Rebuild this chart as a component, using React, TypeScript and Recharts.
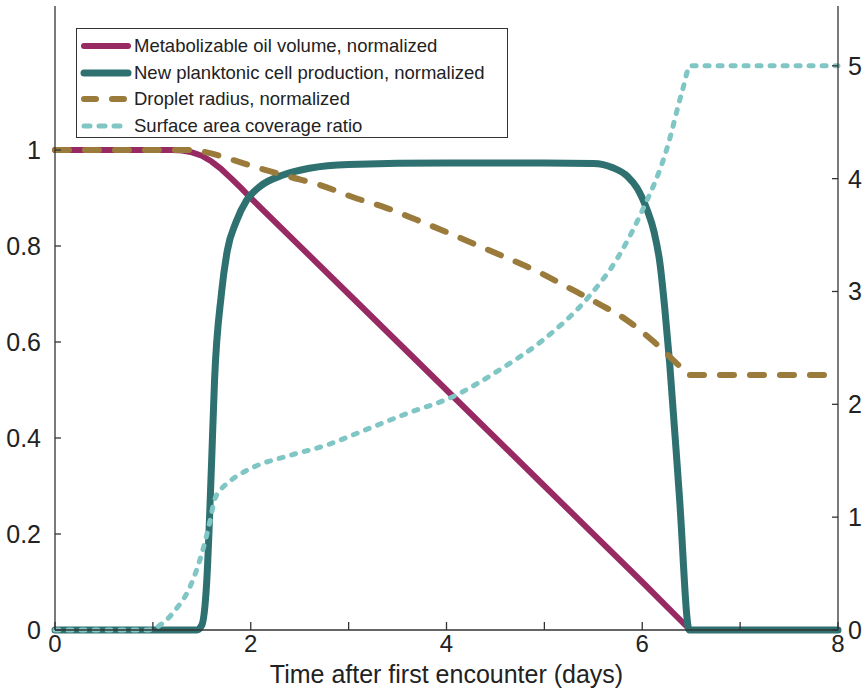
import React from 'react';
import { LineChart, Line, XAxis, YAxis, Legend } from 'recharts';

// [time (days), value]
const oilVolume: number[][] = [
  [0, 1], [1.2, 1], [1.3, 0.999], [1.4, 0.995], [1.5, 0.988], [1.6, 0.976], [1.7, 0.96],
  [1.8, 0.941], [1.9, 0.921], [2.0, 0.9], [3.0, 0.7], [4.0, 0.5], [5.0, 0.3], [6.0, 0.1],
  [6.49, 0], [8, 0],
];
const cellProduction: number[][] = [
  [0, 0], [1.45, 0], [1.5, 0.01], [1.55, 0.1], [1.6, 0.35], [1.63, 0.52], [1.7, 0.7],
  [1.76, 0.79], [1.85, 0.85], [1.96, 0.896], [2.1, 0.925], [2.33, 0.948], [2.6, 0.962],
  [3.0, 0.97], [4.0, 0.973], [5.0, 0.973], [5.5, 0.972], [5.7, 0.963], [5.85, 0.945],
  [5.95, 0.92], [6.05, 0.875], [6.12, 0.83], [6.18, 0.765], [6.23, 0.67], [6.28, 0.556],
  [6.38, 0.277], [6.48, 0], [8, 0],
];
const dropletRadius: number[][] = [
  [0, 1], [1.4, 1], [1.55, 0.995], [1.82, 0.979], [2.09, 0.962], [2.4, 0.944], [2.71, 0.927],
  [3.04, 0.902], [3.39, 0.879], [3.7, 0.854], [4.0, 0.829], [4.31, 0.802], [4.62, 0.775],
  [4.95, 0.745], [5.23, 0.715], [5.57, 0.678], [5.84, 0.646], [6.11, 0.602], [6.38, 0.55],
  [6.48, 0.531], [8, 0.531],
];
const coverageRatio: number[][] = [
  [0, 0], [0.95, 0], [1.05, 0.03], [1.14, 0.09], [1.25, 0.2], [1.35, 0.33], [1.48, 0.62],
  [1.58, 0.95], [1.63, 1.15], [1.7, 1.25], [1.76, 1.3], [2.02, 1.44], [2.37, 1.54],
  [2.78, 1.64], [3.19, 1.78], [3.6, 1.92], [4.07, 2.07], [4.55, 2.31], [5.0, 2.58],
  [5.46, 2.96], [5.75, 3.3], [5.98, 3.68], [6.25, 4.26], [6.41, 4.78], [6.49, 5], [8, 5],
];

const seriesNames = [
  'Metabolizable oil volume, normalized',
  'New planktonic cell production, normalized',
  'Droplet radius, normalized',
  'Surface area coverage ratio',
];
const xTicks = [0, 1, 2, 3, 4, 5, 6, 7, 8];
const leftTicks = [0, 0.2, 0.4, 0.6, 0.8, 1];
const rightTicks = [0, 1, 2, 3, 4, 5];
const xTitle = 'Time after first encounter (days)';

const COLORS = ['#982a63', '#2e7170', '#9a7b3c', '#80c6c4'];
const WIDTHS = [6, 7, 6, 5];
const DASHES = [undefined, undefined, '14 16', '4 9'];
const CURVES = ['linear', 'monotone', 'monotone', 'monotone'];
const FONT = '"Liberation Sans", Arial, Helvetica, sans-serif';

const toPts = (arr: number[][]) => arr.map(([t, v]) => ({ t, v }));

const LegendBox = () => (
  <div
    style={{
      border: '1.5px solid #333',
      background: '#fff',
      boxSizing: 'border-box',
      width: 432,
      height: 110,
      padding: '4px 0 0 3px',
      fontFamily: FONT,
      fontSize: 18.5,
      color: '#222',
    }}
  >
    {seriesNames.map((name, i) => (
      <div key={name} style={{ display: 'flex', alignItems: 'center', height: 26.5 }}>
        <svg width={52} height={12} style={{ marginRight: 2 }}>
          <line
            x1={4}
            y1={6}
            x2={48}
            y2={6}
            stroke={COLORS[i]}
            strokeWidth={WIDTHS[i]}
            strokeLinecap="round"
            strokeDasharray={i === 2 ? '12 16' : i === 3 ? '6 9' : undefined}
          />
        </svg>
        <span style={{ whiteSpace: 'nowrap' }}>{name}</span>
      </div>
    ))}
  </div>
);

export default function App() {
  const tickStyle = { fill: '#222', fontSize: 24, fontFamily: FONT };
  const axisLine = { stroke: '#333', strokeWidth: 1.3 };
  return (
    <div style={{ position: 'absolute', left: 0, top: 0, background: '#fff' }}>
      <LineChart width={868} height={689} margin={{ top: 6, right: 0, bottom: 0, left: 0 }}>
        <XAxis
          dataKey="t"
          type="number"
          domain={[0, 8]}
          ticks={xTicks}
          tickFormatter={(v: number) => (v % 2 === 0 ? String(v) : '')}
          height={59}
          tickSize={-8}
          tickMargin={13}
          tick={tickStyle}
          axisLine={axisLine}
          tickLine={axisLine}
          label={{ value: xTitle, position: 'insideBottom', offset: 6, fill: '#222', fontSize: 25, fontFamily: FONT }}
        />
        <XAxis
          xAxisId="top"
          orientation="top"
          dataKey="t"
          type="number"
          domain={[0, 8]}
          ticks={xTicks}
          tickFormatter={() => ''}
          height={0}
          tickSize={-8}
          tick={tickStyle}
          axisLine={axisLine}
          tickLine={axisLine}
        />
        <YAxis
          yAxisId="left"
          type="number"
          domain={[0, 1.3]}
          ticks={leftTicks}
          width={55}
          tickSize={-6}
          tickMargin={20}
          tick={{ ...tickStyle, fontSize: 25 }}
          axisLine={axisLine}
          tickLine={axisLine}
        />
        <YAxis
          yAxisId="right"
          orientation="right"
          type="number"
          domain={[0, 5.53]}
          ticks={rightTicks}
          width={30}
          tickSize={-6}
          tickMargin={16}
          tick={{ ...tickStyle, fontSize: 25 }}
          axisLine={axisLine}
          tickLine={axisLine}
        />
        <Legend
          layout="vertical"
          align="center"
          verticalAlign="middle"
          content={() => <LegendBox />}
          wrapperStyle={{ left: 76, top: 28, width: 432, height: 110 }}
        />
        {[oilVolume, cellProduction, dropletRadius, coverageRatio].map((arr, i) => (
          <Line
            key={seriesNames[i]}
            name={seriesNames[i]}
            data={toPts(arr)}
            dataKey="v"
            yAxisId={i === 3 ? 'right' : 'left'}
            type={CURVES[i] as any}
            stroke={COLORS[i]}
            strokeWidth={WIDTHS[i]}
            strokeDasharray={DASHES[i]}
            strokeLinecap="round"
            strokeLinejoin="round"
            dot={false}
            activeDot={false}
            isAnimationActive={false}
          />
        ))}
      </LineChart>
    </div>
  );
}
